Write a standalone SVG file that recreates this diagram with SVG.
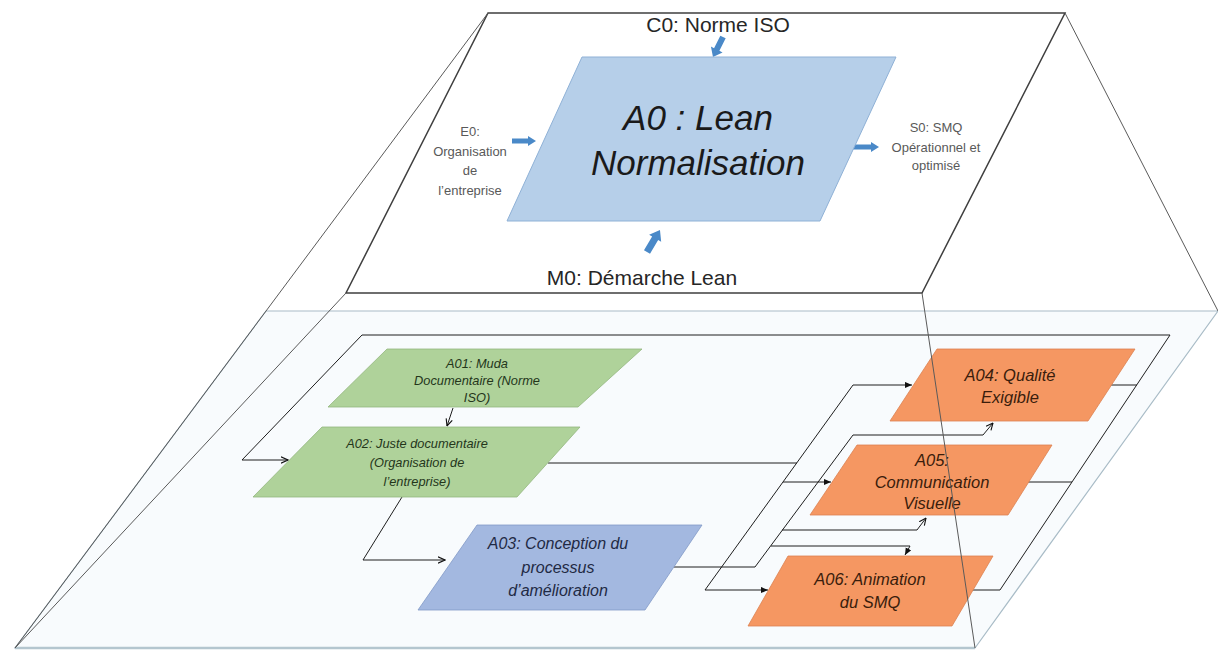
<svg xmlns="http://www.w3.org/2000/svg" width="1218" height="651" viewBox="0 0 1218 651">
<style>
  .plane { fill: #ffffff; stroke: #3f3f3f; stroke-width: 1.5; }
  .lower { fill: #f8fbfd; stroke: #a9bcc7; stroke-width: 1.2; }
  .persp { fill: none; stroke: #5a5a5a; stroke-width: 1; }
  .conn { fill: none; stroke: #1e1e1e; stroke-width: 1; }
  .big { fill: #4a89c8; }
  .a0 { fill: #b6cfe9; stroke: #8fb1d6; stroke-width: 1; }
  .green { fill: #afd29a; stroke: #93b67f; stroke-width: 0.8; }
  .blue { fill: #a3b8e0; stroke: #8199c7; stroke-width: 0.8; }
  .orange { fill: #f59762; stroke: #dc8250; stroke-width: 0.8; }
  text { font-family: "Liberation Sans", Arial, sans-serif; text-anchor: middle; }
  .lbl { font-size: 21px; fill: #262626; }
  .small { font-size: 13px; fill: #595959; }
  .t0 { font-size: 35px; font-style: italic; fill: #1a1a1a; }
  .tg { font-size: 12.8px; font-style: italic; fill: #24361a; }
  .tb { font-size: 16px; font-style: italic; fill: #1f2a44; }
  .to { font-size: 16.5px; font-style: italic; fill: #3a1d0c; }
</style>
<defs>
  <marker id="solid" viewBox="0 0 8 8" refX="8" refY="4" markerWidth="7" markerHeight="7" markerUnits="userSpaceOnUse" orient="auto">
    <path d="M0,0.5 L8,4 L0,7.5 Z" fill="#111"/>
  </marker>
  <marker id="open" viewBox="0 0 8 8" refX="7.5" refY="4" markerWidth="8" markerHeight="8" markerUnits="userSpaceOnUse" orient="auto">
    <path d="M0.5,0.8 L7.5,4 L0.5,7.2" fill="none" stroke="#111" stroke-width="1.1"/>
  </marker>
</defs>

<g id="planes">
  <polygon class="lower" points="266,311 1218,311 975,648 15,648"/>
  <line x1="15" y1="648" x2="975" y2="648" stroke="#b4c6cf" stroke-width="2.5"/>
  <polygon class="plane" points="488,13 1065,13 922,293 346,293"/>
  <line class="persp" x1="488" y1="13" x2="15" y2="648"/>
  <line class="persp" x1="346" y1="293" x2="15" y2="648"/>
  <line class="persp" x1="1065" y1="13" x2="1218" y2="311"/>
</g>

<g id="connectors">
  <path class="big" transform="translate(723,37) rotate(116.6)" d="M0,-3 L14,-3 L14,-6.5 L22.4,0 L14,6.5 L14,3 L0,3 Z"/>
  <path class="big" transform="translate(647,252) rotate(-59.4)" d="M0,-3.5 L16,-3.5 L16,-7 L25.5,0 L16,7 L16,3.5 L0,3.5 Z"/>
  <path class="big" transform="translate(512,141)" d="M0,-2.5 L16,-2.5 L16,-5 L24,0 L16,5 L16,2.5 L0,2.5 Z"/>
  <path class="big" transform="translate(853,147)" d="M0,-2.5 L18,-2.5 L18,-5 L26,0 L18,5 L18,2.5 L0,2.5 Z"/>

  <path class="conn" d="M1000,590 L1170,335 L362,335 L242,460 L288,460" marker-end="url(#open)"/>
  <line class="conn" x1="1110" y1="385" x2="1137" y2="385"/>
  <line class="conn" x1="1028" y1="482" x2="1072" y2="482"/>
  <line class="conn" x1="966" y1="590" x2="1000" y2="590"/>

  <line class="conn" x1="453" y1="408" x2="447" y2="426" marker-end="url(#open)"/>
  <path class="conn" d="M402,497 L363,560 L445,560" marker-end="url(#open)"/>
  <line class="conn" x1="548" y1="463" x2="797" y2="463"/>
  <line class="conn" x1="853" y1="385" x2="705" y2="590"/>
  <line class="conn" x1="853" y1="385" x2="912" y2="385" marker-end="url(#solid)"/>
  <line class="conn" x1="783" y1="482" x2="831" y2="482" marker-end="url(#solid)"/>
  <line class="conn" x1="705" y1="590" x2="768" y2="590" marker-end="url(#solid)"/>
  <line class="conn" x1="674" y1="567" x2="755" y2="567"/>
  <line class="conn" x1="755" y1="567" x2="853" y2="435"/>
  <path class="conn" d="M853,435 L983,435 L993,423" marker-end="url(#open)"/>
  <path class="conn" d="M782,530 L917,530 L926,518" marker-end="url(#open)"/>
  <path class="conn" d="M771,546 L910,546 L905,555" marker-end="url(#solid)"/>
</g>

<g id="A0">
  <polygon class="a0" points="582,57 896,57 820,221 507,221"/>
  <text class="t0" x="698" y="130">A0 : Lean</text>
  <text class="t0" x="698" y="175">Normalisation</text>
</g>
<g id="C0"><text class="lbl" x="718" y="32">C0: Norme ISO</text></g>
<g id="M0"><text class="lbl" x="642" y="285">M0: Démarche Lean</text></g>
<g id="E0">
  <text class="small" x="470" y="136">E0:</text>
  <text class="small" x="470" y="155.5">Organisation</text>
  <text class="small" x="470" y="175">de</text>
  <text class="small" x="470" y="194.5">l’entreprise</text>
</g>
<g id="S0">
  <text class="small" x="936" y="132">S0: SMQ</text>
  <text class="small" x="936" y="151.5">Opérationnel et</text>
  <text class="small" x="936" y="170">optimisé</text>
</g>

<g id="A01">
  <polygon class="green" points="387,349 642,349 578,407 328,407"/>
  <text class="tg" x="477" y="368">A01: Muda</text>
  <text class="tg" x="477" y="385">Documentaire (Norme</text>
  <text class="tg" x="477" y="402">ISO)</text>
</g>
<g id="A02">
  <polygon class="green" points="322,427 580,427 517,497 253,497"/>
  <text class="tg" x="417" y="448">A02: Juste documentaire</text>
  <text class="tg" x="417" y="467">(Organisation de</text>
  <text class="tg" x="417" y="486">l’entreprise)</text>
</g>
<g id="A03">
  <polygon class="blue" points="477,525 702,525 645,610 418,610"/>
  <text class="tb" x="558" y="549">A03: Conception du</text>
  <text class="tb" x="558" y="573">processus</text>
  <text class="tb" x="558" y="596">d’amélioration</text>
</g>
<g id="A04">
  <polygon class="orange" points="937,349 1135,349 1088,421 890,421"/>
  <text class="to" x="1010" y="381">A04: Qualité</text>
  <text class="to" x="1010" y="403">Exigible</text>
</g>
<g id="A05">
  <polygon class="orange" points="857,445 1052,445 1008,515 810,515"/>
  <text class="to" x="932" y="466">A05:</text>
  <text class="to" x="932" y="488">Communication</text>
  <text class="to" x="932" y="509">Visuelle</text>
</g>
<g id="A06">
  <polygon class="orange" points="788,556 993,556 952,626 748,626"/>
  <text class="to" x="870" y="585">A06: Animation</text>
  <text class="to" x="870" y="608">du SMQ</text>
</g>

<g id="perspective-front">
  <line class="persp" x1="922" y1="293" x2="975" y2="648"/>
</g>
</svg>
